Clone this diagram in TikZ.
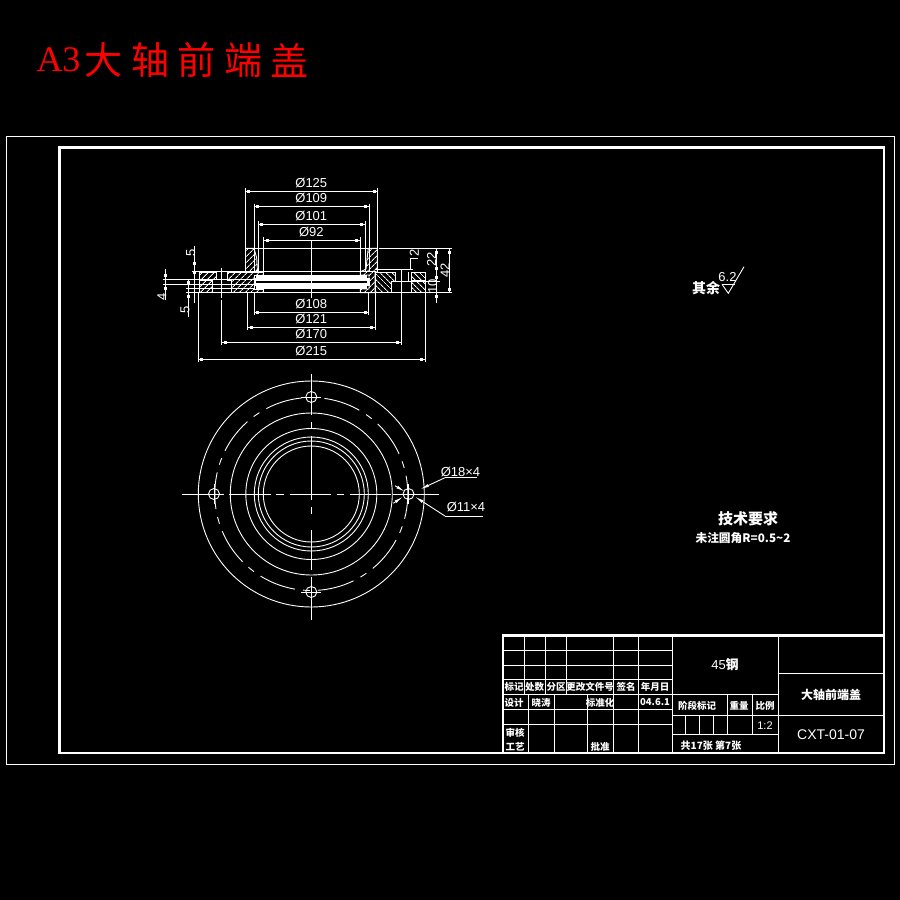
\documentclass[tikz,border=0pt]{standalone}
\usepackage{fontspec}
\setmainfont{Liberation Sans}
\newfontfamily\cjk{Noto Sans CJK SC}
\newfontfamily\titleserif{Liberation Serif}
\usetikzlibrary{arrows.meta,patterns.meta}
\tikzset{
    part/.style={draw=white,line width=0.9pt},
    hatchl/.style={part,pattern={Lines[angle=45,distance=4pt,line width=1pt]},pattern color=white},
    hatchr/.style={part,pattern={Lines[angle=-45,distance=4pt,line width=1pt]},pattern color=white},
    dimtext/.style={white,font=\fontsize{13}{13}\selectfont,inner sep=0pt},
    cjktext/.style={white,font=\cjk\bfseries\fontsize{9.5}{10}\selectfont,inner sep=0pt},
    leader/.style={part,-{Latex[length=9pt,width=3pt]}}
}
\begin{document}
\begin{tikzpicture}[x=1pt,y=-1pt,line width=0.9pt]
    \useasboundingbox (0,0) rectangle (900,900);
    \fill[black] (0,0) rectangle (900,900);
    \node[red,inner sep=0pt,font=\titleserif\fontsize{36}{36}\selectfont] (titlea) at (58.5,60) {A3};
    \foreach \ch [count=\i] in {大,轴,前,端,盖}
        {
            \node[red,inner sep=0pt,font=\cjk\fontsize{38}{38}\selectfont] (title\i) at (57+46.5*\i,60) {\ch};
        }
    \draw[part] (6.5,136.5) rectangle (894.5,764.5);
    \draw[white,line width=2.8pt] (59.5,147.5) rectangle (884,753);
    % section
    \draw[hatchl] (199,272)--(216.7,272)--(216.7,279.3)--(199,279.3)--cycle;
    \draw[hatchl] (199,280)--(212.3,280)--(212.3,292.7)--(199,292.7)--cycle;
    \draw[hatchl] (227.3,272)--(263.7,272)--(263.7,275)--(254,275)--(254,289)--(263.7,289)--(263.7,292.7)
        --(231.7,292.7)--(231.7,280)--(227.3,280)--cycle;
    \draw[hatchl] (245.5,248.3)--(254,248.3)--(256.7,258)--(257.5,272)--(245.5,272)--cycle;
    \draw[hatchl] (368.3,248.3)--(377.3,248.3)--(377.3,272)--(375,272)--(375,292.7)--(360.3,292.7)--(360.3,289)
        --(369,289)--(369,275)--(360.3,275)--(360.3,272)--(366,269)--(367.3,256.7)--cycle;
    \draw[hatchr] (375,272)--(395,272)--(395,281)--(391.7,281)--(391.7,292.7)--(375,292.7)--cycle;
    \draw[hatchr] (411.3,272)--(425,272)--(425,280)--(411.3,280)--cycle;
    \draw[hatchr] (411.3,281.5)--(425,281.5)--(425,292.7)--(411.3,292.7)--cycle;
    \fill[white] (256,275.3) rectangle (367,280.7);
    \fill[white] (256,283.3) rectangle (367,288.7);
    \fill[white] (253.5,278) rectangle (256,286);
    \fill[white] (367,278) rectangle (370,286);
    \draw[part] (311.3,240)--(311.3,298);
    \draw[part] (221.7,268)--(221.7,298);
    \draw[part] (401.3,269)--(401.3,300);
    \draw[part] (408.3,272)--(408.3,281);
    \draw[part] (192.3,271.7)--(376,271.7);
    \draw[part] (379,248.3)--(451.7,248.3);
    \draw[part] (245.5,248.3)--(377.3,248.3);
    \draw[part] (376,269.3)--(413.3,269.3);
    \draw[part] (186,292.7)--(451.7,292.7);
    \draw[part] (162.7,279.3)--(253.5,279.3);
    \draw[part] (162.7,284.7)--(253.5,284.7);
    \draw[part] (186,288.3)--(253.5,288.3);
    \draw[part] (391.7,281)--(440,281);
    \draw[part] (410.7,269.3)--(410.7,258.3)--(418.3,258.3);
    \node[dimtext,rotate=90] (lab2) at (414.3,252.5) {2};
    % diameters
    \foreach \xa/\xb/\ya/\yb/\ty/\lab in {245.3/377.7/191/248/182.7/125,254/369.3/206.7/272/198.3/109,
        258.3/365.3/224/272/216/101,263.7/360.3/240.3/272/231.7/92}
        {
            \draw[part] (\xa,\ya-3)--(\xa,\yb);
            \draw[part] (\xb,\ya-3)--(\xb,\yb);
            \draw[part] (\xa,\ya)--(\xb,\ya);
            \fill[white] (\xa+2,\ya-1.5) rectangle +(3,3);
            \fill[white] (\xb-5,\ya-1.5) rectangle +(3,3);
            \node[dimtext] (dia\lab) at (311.3,\ty) {Ø\lab};
        }
    \foreach \xa/\xb/\ya/\yb/\ty/\lab in {254.3/368.7/312.3/292.7/303.7/108,247.7/375.3/327.3/292.7/319/121,
        221.7/401.3/342.3/300/334/170,198.3/425.3/359.3/292.7/351/215}
        {
            \draw[part] (\xa,\yb)--(\xa,\ya+3);
            \draw[part] (\xb,\yb)--(\xb,\ya+3);
            \draw[part] (\xa,\ya)--(\xb,\ya);
            \fill[white] (\xa+2,\ya-1.5) rectangle +(3,3);
            \fill[white] (\xb-5,\ya-1.5) rectangle +(3,3);
            \node[dimtext] (dia\lab) at (311.3,\ty) {Ø\lab};
        }
    % side dimensions
    \foreach \x/\ya/\yb/\ta/\tb in {165.3/269.3/300/275.3/288.3,194/246/303/263/272,188.3/280/316.7/282.3/296.3,
        436/249.3/303.3/252.7/268.3,436/270/303.3/277.7/296.7,449.3/248.3/292.7/252/289}
        {
            \draw[part] (\x,\ya)--(\x,\yb);
            \fill[white] (\x-1.5,\ta-1.5) rectangle +(3,3);
            \fill[white] (\x-1.5,\tb-1.5) rectangle +(3,3);
        }
    \node[dimtext,rotate=90] (lab4) at (162,296.5) {4};
    \node[dimtext,rotate=90] (lab5a) at (190.7,253.3) {5};
    \node[dimtext,rotate=90] (lab5b) at (185,310) {5};
    \node[dimtext,rotate=90] (lab22) at (431.7,259.3) {22};
    \node[dimtext,rotate=90] (lab42) at (445,270) {42};
    \node[dimtext,rotate=90] (lab10) at (432.7,286.7) {10};
    % plan
    \foreach \r in {113,81,65.5,57,53,48}
        {
            \draw[part] (311.3,494) circle (\r);
        }
    \draw[part,dash pattern=on 37pt off 8pt on 7pt off 8pt,dash phase=12pt] (311.3,494) circle (96.5);
    \foreach \cx/\cy in {311.3/397,311.3/592,214/494,408.5/494}
        {
            \draw[part] (\cx,\cy) circle (5.5);
            \draw[part] (\cx-10,\cy+.5)--(\cx+10,\cy+.5);
            \draw[part] (\cx,\cy-10)--(\cx,\cy+10);
        }
    \foreach \xa/\xb in {182/224,229/271,276/284,290/331,337/344,350/391,393/439}
        {
            \draw[part] (\xa,494.5)--(\xb,494.5);
        }
    \foreach \ya/\yb in {374/415,422/428,436/500,507/514,530/570,577/583,587/620}
        {
            \draw[part] (311.3,\ya)--(311.3,\yb);
        }
    \draw[leader] (445,477.7)--(420,489.3);
    \draw[leader] (393.3,503.3)--(403,496.7);
    \draw[leader] (445,516)--(415,496.7);
    \draw[leader] (395,485.7)--(405,491.7);
    \draw[part] (445,477.7)--(477.3,477.7);
    \draw[part] (445,516)--(483.3,516);
    \node[dimtext] (holea) at (460.5,471.7) {Ø18×4};
    \node[dimtext] (holeb) at (466,506.7) {Ø11×4};
    % roughness
    \draw[part] (722,284.3)--(735,284.3);
    \draw[part] (722,284.3)--(728.3,293.3)--(744,266.7);
    \node[dimtext] (rough) at (727.5,277) {6.2};
    \node[cjktext,font=\cjk\bfseries\fontsize{14}{14}\selectfont] (rest) at (706,288) {其余};
    \node[cjktext,font=\cjk\bfseries\fontsize{15}{15}\selectfont] (tech) at (748,519) {技术要求};
    \node[cjktext,font=\cjk\bfseries\fontsize{11.7}{12}\selectfont] (note) at (743,538) {未注圆角R=0.5\char`~2};
    % title block
    \draw[white,line width=2.8pt] (503,635.5) rectangle (884,753);
    \foreach \y in {650.7,665,679.3,694.3,709,724}
        {
            \draw[part] (503,\y)--(672.3,\y);
        }
    \foreach \x in {524.3,545.7,566.3}
        {
            \draw[part] (\x,635.5)--(\x,694.3);
        }
    \foreach \x in {528.3,554.3,587.7}
        {
            \draw[part] (\x,694.3)--(\x,753);
        }
    \foreach \x in {613.3,638.3,672.3}
        {
            \draw[part] (\x,635.5)--(\x,753);
        }
    \draw[part] (778.3,635.5)--(778.3,753);
    \draw[part] (778.3,673.3)--(884,673.3);
    \draw[part] (672.3,694.3)--(778.3,694.3);
    \draw[part] (672.3,715.7)--(884,715.7);
    \draw[part] (672.3,734.3)--(778.3,734.3);
    \foreach \x in {685.7,699.3,713.3}
        {
            \draw[part] (\x,715.7)--(\x,734.3);
        }
    \foreach \x in {727.3,752.3}
        {
            \draw[part] (\x,694.3)--(\x,734.3);
        }
    \foreach \x/\y/\t [count=\i] in {514/687/标记,534.5/687/处数,556/687/分区,590/687/更改文件号,626/687/签名,655/687/年月日,
        514/703/设计,541/703/晓涛,600/703/标准化,515/733/审核,515/747/工艺,600/747/批准,
        697/706/阶段标记,739/706/重量,765/706/比例}
        {
            \node[cjktext] (cell\i) at (\x,\y) {\t};
        }
    \node[cjktext] (date) at (655,702) {04.6.1};
    \node[dimtext,font=\fontsize{11}{11}\selectfont] (scale) at (765,726) {1:2};
    \node[cjktext,font=\cjk\bfseries\fontsize{10}{10}\selectfont] (sheets) at (711,745.5) {共17张 第7张};
    \node[dimtext] (matl) at (725,665) {45{\cjk\bfseries 钢}};
    \node[cjktext,font=\cjk\bfseries\fontsize{12}{12}\selectfont] (name) at (831,695) {大轴前端盖};
    \node[dimtext,font=\fontsize{14}{14}\selectfont] (code) at (831,735) {CXT-01-07};
\end{tikzpicture}
\end{document}
